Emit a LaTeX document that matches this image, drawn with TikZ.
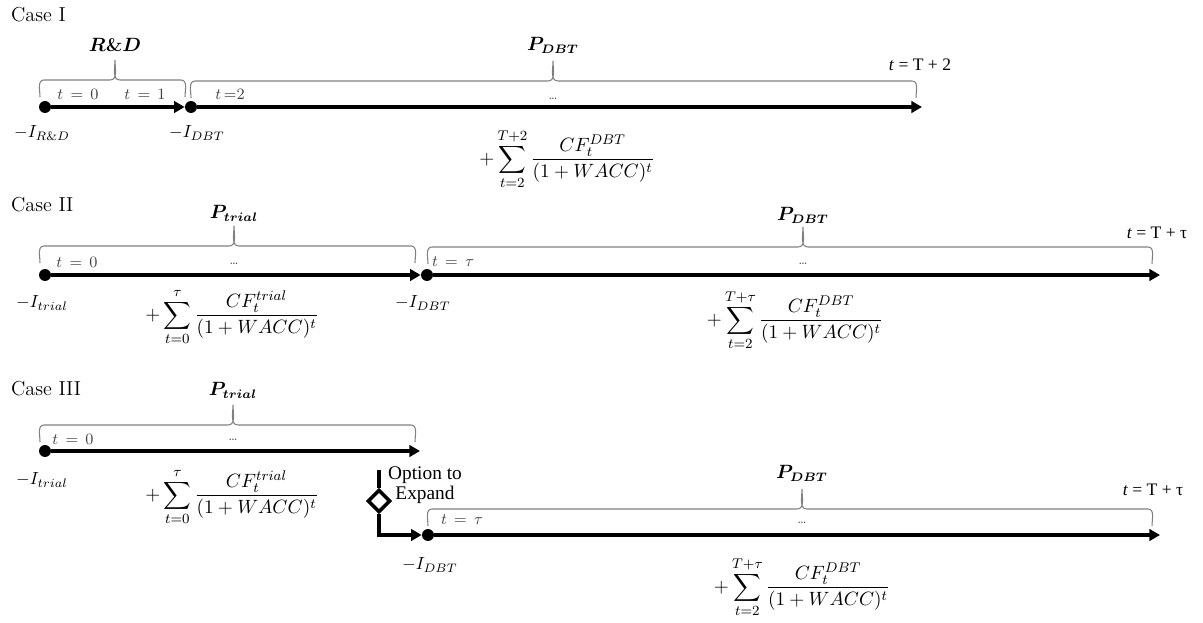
\documentclass[tikz,border=0pt]{standalone}
\usepackage{amsmath}
\usepackage{fontspec}
\newfontfamily\timesfont{Liberation Serif}
\usetikzlibrary{arrows.meta,shapes.geometric}

\tikzset{
  dot/.style={circle,fill=black,inner sep=0pt,minimum size=6.8pt},
  timeline/.style={line width=2.1pt,-{Triangle[length=6pt,width=6.5pt]}},
  optline/.style={line width=2.1pt},
  optbox/.style={diamond,draw,line width=2pt,fill=white,inner sep=0pt,minimum width=13pt,minimum height=13pt},
  bracegray/.style={draw=black!50,line width=0.6pt},
  casetext/.style={anchor=west,font=\fontsize{11.5}{13}\selectfont},
  phase/.style={font=\fontsize{10.5}{12}\selectfont},
  tlabel/.style={text=black!75,font=\fontsize{9}{11}\selectfont},
  cont/.style={text=black!75,font=\fontsize{7}{8}\selectfont},
  endlabel/.style={font=\timesfont\fontsize{10}{12}\selectfont},
  cost/.style={font=\fontsize{10}{12}\selectfont},
  npv/.style={font=\fontsize{11}{13}\selectfont},
  opttext/.style={align=center,font=\timesfont\fontsize{11}{11.4}\selectfont}
}

% left x, right x, tip x, base y
\newcommand\timebrace[4]{%
  \draw[bracegray] (#1,#4) to[out=90,in=180] (#1+4,#4+17) -- (#3-5,#4+17)
    to[out=0,in=-90] (#3,#4+37) to[out=-90,in=180] (#3+5,#4+17)
    -- (#2-4,#4+17) to[out=0,in=90] (#2,#4);}

\begin{document}
\begin{tikzpicture}[x=0.02cm,y=0.02cm]
  \useasboundingbox (0,0) rectangle (1203,-622);

  % Case I
  \node[casetext] (case1) at (5,-15) {Case I};
  \node[dot] (rd0) at (45,-107) {};
  \node[dot] (dbt0) at (191,-107) {};
  \coordinate (end0) at (922,-107);
  \draw[timeline] (rd0) -- (dbt0);
  \draw[timeline] (dbt0) -- (end0);
  \timebrace{40}{185}{115}{-97}
  \timebrace{191}{916}{553}{-98}
  \node[phase] (rdlab) at (115,-45) {$\boldsymbol{R}$\textbf{\&}$\boldsymbol{D}$};
  \node[phase] (dbtlab0) at (553,-45) {$\boldsymbol{P_{DBT}}$};
  \node[tlabel] (t00) at (78,-94) {$t\,=\,0$};
  \node[tlabel] (t01) at (145,-94) {$t\,=\,1$};
  \node[tlabel] (t02) at (230,-94) {$t\,{=}2$};
  \node[cont] (dots0) at (553,-99) {\ldots};
  \node[endlabel] (tend0) at (920,-65) {\textit{t} = T + 2};
  \node[cost] (crd) at (42,-133) {$-I_{R\&D}$};
  \node[cost] (cdbt0) at (197,-133) {$-I_{DBT}$};
  \node[npv] (npv0) at (567,-159) {$+\displaystyle\sum_{t=2}^{T+2}\frac{CF_t^{DBT}}{(1+WACC)^t}$};

  % Case II
  \node[casetext] (case2) at (5,-205) {Case II};
  \node[dot] (tr1) at (45,-275) {};
  \node[dot] (dbt1) at (427,-275) {};
  \coordinate (end1) at (1160,-275);
  \draw[timeline] (tr1) -- (dbt1);
  \draw[timeline] (dbt1) -- (end1);
  \timebrace{40}{415}{234}{-263}
  \timebrace{428}{1152}{803}{-264}
  \node[phase] (trlab1) at (234,-213) {$\boldsymbol{P_{trial}}$};
  \node[phase] (dbtlab1) at (803,-215) {$\boldsymbol{P_{DBT}}$};
  \node[tlabel] (t10) at (77,-262) {$t\,=\,0$};
  \node[tlabel] (t1tau) at (453,-262) {$t\,=\,\tau$};
  \node[cont] (dots1a) at (234,-264) {\ldots};
  \node[cont] (dots1b) at (803,-264) {\ldots};
  \node[endlabel] (tend1) at (1157,-233) {\textit{t} = T + τ};
  \node[cost] (ctr1) at (42,-303) {$-I_{trial}$};
  \node[cost] (cdbt1) at (423,-303) {$-I_{DBT}$};
  \node[npv] (npv1a) at (232,-317) {$+\displaystyle\sum_{t=0}^{\tau}\frac{CF_t^{trial}}{(1+WACC)^t}$};
  \node[npv] (npv1b) at (795,-320) {$+\displaystyle\sum_{t=2}^{T+\tau}\frac{CF_t^{DBT}}{(1+WACC)^t}$};

  % Case III
  \node[casetext] (case3) at (5,-389) {Case III};
  \node[dot] (tr2) at (45,-451) {};
  \coordinate (end2a) at (420,-451);
  \draw[timeline] (tr2) -- (end2a);
  \timebrace{40}{415}{233}{-442}
  \node[phase] (trlab2) at (233,-390) {$\boldsymbol{P_{trial}}$};
  \node[tlabel] (t20) at (73,-439) {$t\,=\,0$};
  \node[cont] (dots2a) at (233,-440) {\ldots};
  \node[cost] (ctr2) at (42,-480) {$-I_{trial}$};
  \node[npv] (npv2a) at (232,-497) {$+\displaystyle\sum_{t=0}^{\tau}\frac{CF_t^{trial}}{(1+WACC)^t}$};

  \coordinate (opttop) at (379,-470);
  \node[optbox] (opt) at (379,-501) {};
  \node[dot] (dbt2) at (428,-535) {};
  \coordinate (end2) at (1160,-535);
  \draw[optline] (opttop) -- (opt);
  \draw[timeline] (opt) |- (dbt2);
  \draw[timeline] (dbt2) -- (end2);
  \node[opttext] (optlab) at (425,-485) {Option to\\Expand};
  \timebrace{428}{1152}{802}{-526}
  \node[phase] (dbtlab2) at (802,-473) {$\boldsymbol{P_{DBT}}$};
  \node[tlabel] (t2tau) at (462,-520) {$t\,=\,\tau$};
  \node[cont] (dots2b) at (802,-523) {\ldots};
  \node[endlabel] (tend2) at (1153,-490) {\textit{t} = T + τ};
  \node[cost] (cdbt2) at (430,-565) {$-I_{DBT}$};
  \node[npv] (npv2b) at (802,-587) {$+\displaystyle\sum_{t=2}^{T+\tau}\frac{CF_t^{DBT}}{(1+WACC)^t}$};
\end{tikzpicture}
\end{document}
